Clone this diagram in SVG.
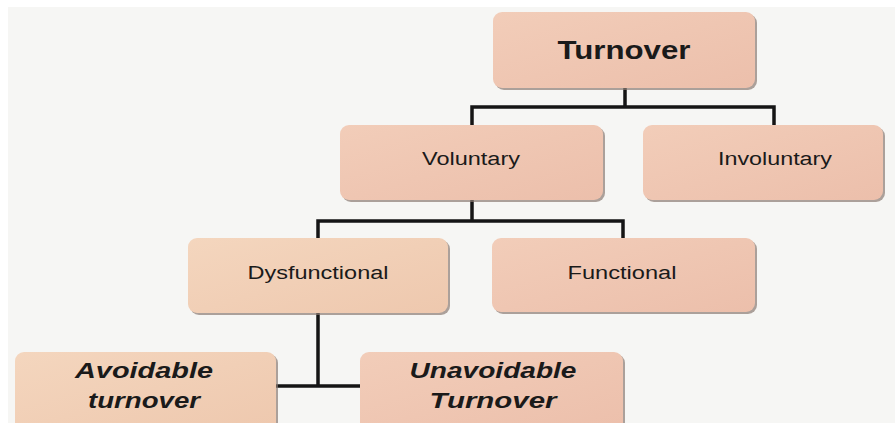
<svg xmlns="http://www.w3.org/2000/svg" width="895" height="423" viewBox="0 0 895 423">
<defs>
<linearGradient id="g1" x1="0" y1="0" x2="1" y2="1">
<stop offset="0" stop-color="#f2cdb9"/>
<stop offset="1" stop-color="#ecbfab"/>
</linearGradient>
<linearGradient id="g2" x1="0" y1="0" x2="1" y2="1">
<stop offset="0" stop-color="#f4d6be"/>
<stop offset="1" stop-color="#eec8ae"/>
</linearGradient>
</defs>
<style>
.sh{fill:#8c7c74;opacity:0.7}
.bx{fill:url(#g1)}
.bx2{fill:url(#g2)}
.t{font-family:"Liberation Sans",Arial,sans-serif;fill:#1a1a1a;text-anchor:middle}
.n{font-size:18px}
.b{font-size:25px;font-weight:bold}
.bi{font-size:22px;font-weight:bold;font-style:italic}
.c{fill:none;stroke:#151515;stroke-width:3.5;stroke-linecap:square}
</style>
<rect x="0" y="0" width="895" height="423" fill="#ffffff"/>
<rect x="8" y="7" width="887" height="416" fill="#f6f6f4"/>
<g id="connectors">
<path class="c" d="M625 89 V107 M472 107 H774 M472 107 V124 M774 107 V124"/>
<path class="c" d="M472 201 V221 M318 221 H623 M318 221 V237 M623 221 V237"/>
<path class="c" d="M318 313 V386 M277 386 H359"/>
</g>
<g id="n-turnover">
<rect class="sh" x="495" y="14" width="262" height="76" rx="9"/>
<rect class="bx" x="493" y="12" width="262" height="76" rx="9"/>
<text class="t b" x="624" y="59" textLength="133" lengthAdjust="spacingAndGlyphs">Turnover</text>
</g>
<g id="n-voluntary">
<rect class="sh" x="342" y="127" width="263" height="75" rx="9"/>
<rect class="bx" x="340" y="125" width="263" height="75" rx="9"/>
<text class="t n" x="471" y="165" textLength="98" lengthAdjust="spacingAndGlyphs">Voluntary</text>
</g>
<g id="n-involuntary">
<rect class="sh" x="645" y="127" width="240" height="75" rx="9"/>
<rect class="bx" x="643" y="125" width="240" height="75" rx="9"/>
<text class="t n" x="775" y="165" textLength="114" lengthAdjust="spacingAndGlyphs">Involuntary</text>
</g>
<g id="n-dysfunctional">
<rect class="sh" x="190" y="240" width="260" height="75" rx="9"/>
<rect class="bx2" x="188" y="238" width="260" height="75" rx="9"/>
<text class="t n" x="318" y="279" textLength="141" lengthAdjust="spacingAndGlyphs">Dysfunctional</text>
</g>
<g id="n-functional">
<rect class="sh" x="494" y="240" width="263" height="74" rx="9"/>
<rect class="bx" x="492" y="238" width="263" height="74" rx="9"/>
<text class="t n" x="622" y="279" textLength="109" lengthAdjust="spacingAndGlyphs">Functional</text>
</g>
<g id="n-avoidable">
<rect class="sh" x="17" y="354" width="261" height="80" rx="9"/>
<rect class="bx2" x="15" y="352" width="261" height="80" rx="9"/>
<text class="t bi" x="144" y="378" textLength="138" lengthAdjust="spacingAndGlyphs">Avoidable</text>
<text class="t bi" x="144" y="408" textLength="112" lengthAdjust="spacingAndGlyphs">turnover</text>
</g>
<g id="n-unavoidable">
<rect class="sh" x="362" y="354" width="263" height="80" rx="9"/>
<rect class="bx" x="360" y="352" width="263" height="80" rx="9"/>
<text class="t bi" x="493" y="378" textLength="167" lengthAdjust="spacingAndGlyphs">Unavoidable</text>
<text class="t bi" x="493" y="408" textLength="127" lengthAdjust="spacingAndGlyphs">Turnover</text>
</g>
</svg>
